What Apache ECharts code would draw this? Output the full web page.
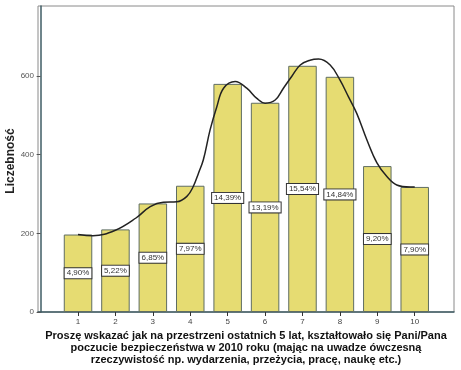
<!DOCTYPE html>
<html>
<head>
<meta charset="utf-8">
<script src="https://cdn.jsdelivr.net/npm/echarts@6/dist/echarts.min.js"></script>
<style>html,body{margin:0;padding:0;background:#fff;}#c{width:461px;height:370px;}</style>
</head>
<body>
<div id="c"></div>
<script>
const categories = [1, 2, 3, 4, 5, 6, 7, 8, 9, 10];
const counts = [197, 210, 276, 321, 580, 532, 626, 598, 371, 318];
const pctLabels = ['4,90%', '5,22%', '6,85%', '7,97%', '14,39%', '13,19%', '15,54%', '14,84%', '9,20%', '7,90%'];
const yTicks = [0, 200, 400, 600];
const curveX = [1.0, 1.4, 2.0, 2.55, 2.93, 3.28, 3.64, 3.91, 4.08, 4.22, 4.35, 4.53, 4.71, 4.89, 5.2, 5.51, 5.78, 6.0, 6.27, 6.49, 6.72, 6.94, 7.2, 7.43, 7.74, 8.0, 8.23, 8.45, 8.72, 8.99, 9.25, 9.52, 9.88, 10.0];
const curveY = [197, 194, 208, 239, 268, 279, 280, 294, 319, 353, 387, 463, 522, 569, 586, 569, 543, 531, 539, 569, 600, 628, 640, 643, 628, 590, 547, 505, 438, 379, 345, 323, 318, 318];
const yTitle = 'Liczebność';
const xTitle = 'Proszę wskazać jak na przestrzeni ostatnich 5 lat, kształtowało się Pani/Pana\npoczucie bezpieczeństwa w 2010 roku (mając na uwadze ówczesną\nrzeczywistość np. wydarzenia, przeżycia, pracę, naukę etc.)';

const chart = echarts.init(document.getElementById('c'), null, {renderer: 'canvas'});
const font = 'Liberation Sans, Arial, sans-serif';
chart.setOption({
  animation: false,
  backgroundColor: '#fff',
  grid: {left: 38, right: 7, top: 6, bottom: 58, show: true, borderColor: '#8a8a8a', borderWidth: 1, backgroundColor: '#fff'},
  xAxis: {
    type: 'value', min: -0.07, max: 11.05,
    axisLine: {show: true, onZero: false, lineStyle: {color: '#3f5c64', width: 1.5}},
    axisTick: {show: true, customValues: categories, length: 4, lineStyle: {color: '#333'}},
    axisLabel: {customValues: categories, fontSize: 8, color: '#444', fontFamily: font, margin: 6},
    splitLine: {show: false}
  },
  yAxis: {
    type: 'value', min: 0, max: 778,
    axisLine: {show: true, lineStyle: {color: '#3f5c64', width: 1.5}},
    axisTick: {show: true, customValues: yTicks, length: 4, lineStyle: {color: '#555'}},
    axisLabel: {customValues: yTicks, fontSize: 8, color: '#555', fontFamily: font, margin: 4},
    splitLine: {show: false}
  },
  series: [
    {
      type: 'bar',
      data: categories.map((c, i) => [c, counts[i]]),
      barWidth: 28.5,
      itemStyle: {color: '#e6dc72', borderColor: '#5f6d62', borderWidth: 1},
      label: {
        show: true, position: 'inside',
        formatter: p => pctLabels[p.dataIndex],
        fontSize: 8, color: '#333', fontFamily: font,
        backgroundColor: '#fff', borderColor: '#333', borderWidth: 1, padding: [1, 2]
      },
      z: 2
    },
    {
      type: 'line',
      data: curveX.map((x, i) => [x, curveY[i]]),
      smooth: 0.4, showSymbol: false,
      lineStyle: {color: '#222', width: 1.5},
      z: 3
    }
  ],
  graphic: [
    {type: 'text', x: 11, y: 161, rotation: Math.PI / 2, style: {text: yTitle, font: 'bold 12px ' + font, fill: '#222', align: 'center', verticalAlign: 'middle'}},
    {type: 'text', x: 246, y: 330, style: {text: xTitle, font: 'bold 11px ' + font, fill: '#111', align: 'center', lineHeight: 12}}
  ]
});
</script>
</body>
</html>
